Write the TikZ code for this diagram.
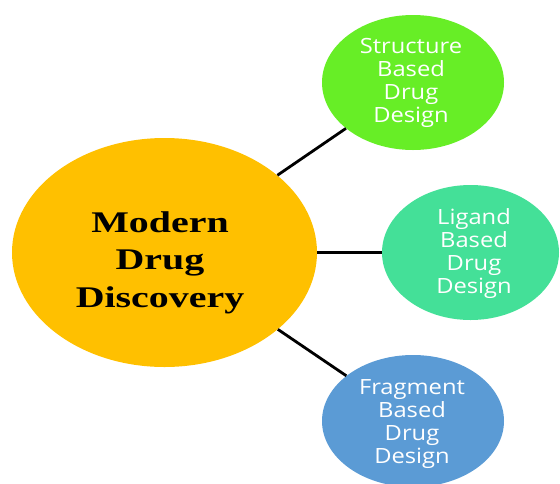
\documentclass[tikz,border=0pt]{standalone}
\usepackage{fontspec}
\usetikzlibrary{shapes.geometric}
\newfontfamily\hubfont{Liberation Serif}[FakeStretch=1.33]
\newfontfamily\leaffont{Open Sans}[FakeStretch=1.13]
\definecolor{hubgold}{RGB}{255,192,0}
\definecolor{sbdgreen}{RGB}{103,238,38}
\definecolor{lbdteal}{RGB}{68,224,152}
\definecolor{fbdblue}{RGB}{91,155,213}
\tikzset{
  blob/.style={ellipse, draw=none, inner sep=0pt},
  link/.style={draw=black, line width=2.8pt},
  % labels are placed by the baseline of their last line
  hubtext/.style={anchor=base, align=center, inner sep=0pt,
    font=\hubfont\bfseries\fontsize{30}{37.5}\selectfont},
  leaftext/.style={anchor=base, align=center, inner sep=0pt, text=white,
    font=\leaffont\fontsize{21}{22.7}\selectfont},
}
\begin{document}
\begin{tikzpicture}[x=1pt,y=-1pt]
\useasboundingbox (0,0) rectangle (560,483);
\begin{scope}
\clip (0,0) rectangle (560,483);
% central topic and the three approaches
\node[blob, fill=hubgold, minimum width=305pt, minimum height=229pt] (hub) at (164.5,252.5) {};
\node[blob, fill=sbdgreen, minimum width=182pt, minimum height=135pt] (sbd) at (413,82.5) {};
\node[blob, fill=lbdteal, minimum width=177pt, minimum height=135pt] (lbd) at (470.5,252.5) {};
\node[blob, fill=fbdblue, minimum width=182pt, minimum height=132pt] (fbd) at (413,421) {};
% connectors
\draw[link] (hub) -- (sbd);
\draw[link] (hub) -- (lbd);
\draw[link] (hub) -- (fbd);
\end{scope}
% labels
\node[hubtext] (hubLabel) at (160,307) {Modern\\Drug\\Discovery};
\node[leaftext] (sbdLabel) at (411,122) {Structure\\Based\\Drug\\Design};
\node[leaftext] (lbdLabel) at (474,293) {Ligand\\Based\\Drug\\Design};
\node[leaftext] (fbdLabel) at (412,463) {Fragment\\Based\\Drug\\Design};
\end{tikzpicture}
\end{document}
